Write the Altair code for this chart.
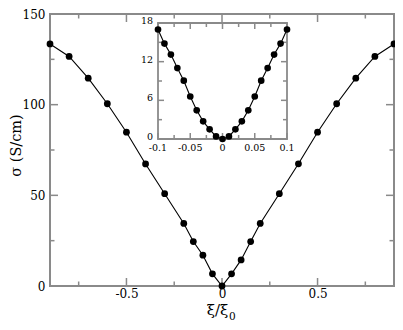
import altair as alt
import pandas as pd

# ---------------- data ----------------
main_x = [-0.9, -0.8, -0.7, -0.6, -0.5, -0.4, -0.3, -0.2, -0.15, -0.1, -0.05, 0.0,
          0.05, 0.1, 0.15, 0.2, 0.3, 0.4, 0.5, 0.6, 0.7, 0.8, 0.9]
main_y = [133.5, 126.6, 114.6, 100.5, 84.8, 67.3, 50.9, 34.5, 24.5, 17.0, 6.7, 0.0,
          6.7, 14.4, 24.5, 34.5, 50.9, 67.4, 84.8, 100.5, 114.6, 126.6, 133.5]

inset_x = [-0.1, -0.09, -0.08, -0.07, -0.06, -0.05, -0.04, -0.03, -0.02, -0.01, 0.0,
           0.01, 0.02, 0.03, 0.04, 0.05, 0.06, 0.07, 0.08, 0.09, 0.1]
inset_y = [17.0, 14.8, 13.1, 11.0, 9.05, 6.6, 4.45, 2.74, 1.5, 0.4, 0.0,
           0.4, 1.5, 2.74, 4.45, 6.6, 9.05, 11.0, 13.1, 14.8, 17.0]

main_xticks_major = [-0.5, 0.0, 0.5]
main_xticks_minor = [-0.75, -0.25, 0.25, 0.75]
main_yticks_major = [0, 50, 100, 150]
main_yticks_minor = [25, 75, 125]

inset_xticks_major = [-0.1, -0.05, 0.0, 0.05, 0.1]
inset_xtick_labels = ["-0.1", "-0.05", "0", "0.05", "0.1"]
inset_xticks_minor = [-0.075, -0.025, 0.025, 0.075]
inset_yticks_major = [0, 6, 12, 18]
inset_ytick_labels = ["0", "6", "12", "18"]
inset_yticks_minor = [3, 9, 15]

x_title = "ξ/ξ"
x_title_sub = "0"
y_title = "σ (S/cm)"

# ---------------- layout / style ----------------
W, H = 344, 272
IX0, IX1, IY0, IY1 = 108, 237, 9, 125
GREY = "#8a8a8a"
FONT = "DejaVu Serif"
MAJ, MIN = 8, 4.5
IMAJ, IMIN = 6, 4

XS = alt.Scale(domain=[-0.9, 0.9], nice=False, zero=False)
YS = alt.Scale(domain=[0, 150], nice=False, zero=False)
XA = alt.Axis(values=main_xticks_major, labelExpr="'' + datum.value", ticks=False, tickSize=0,
              domain=False, grid=False, title=None, labelFont=FONT, labelFontSize=12,
              labelColor="black", labelPadding=2, labelFlush=False, labelOverlap=False)
YA = alt.Axis(values=main_yticks_major, ticks=False, tickSize=0, domain=False, grid=False,
              title=None, labelFont=FONT, labelFontSize=12, labelColor="black",
              labelPadding=5, labelFlush=False, labelOverlap=False)

IXS = alt.Scale(domain=[-0.1, 0.1], range=[IX0, IX1], nice=False, zero=False)
IYS = alt.Scale(domain=[0, 18], range=[IY1, IY0], nice=False, zero=False)


def mx(f):
    return alt.X(f, type="quantitative", scale=XS, axis=XA)


def my(f):
    return alt.Y(f, type="quantitative", scale=YS, axis=YA)


def ix(f):
    return alt.X(f, type="quantitative", scale=IXS, axis=None)


def iy(f):
    return alt.Y(f, type="quantitative", scale=IYS, axis=None)


def tickdf(vals):
    return pd.DataFrame({"v": vals})


rule = dict(color=GREY, strokeWidth=1.5)

# ---------------- main panel ----------------
main_df = pd.DataFrame({"x": main_x, "y": main_y})
main_layers = []
for vals, L in [(main_xticks_major, MAJ), (main_xticks_minor, MIN)]:
    main_layers.append(alt.Chart(tickdf(vals)).mark_rule(**rule).encode(
        x=mx("v"), y=alt.value(H), y2=alt.value(H - L)))
    main_layers.append(alt.Chart(tickdf(vals)).mark_rule(**rule).encode(
        x=mx("v"), y=alt.value(0), y2=alt.value(L)))
for vals, L in [(main_yticks_major, MAJ), (main_yticks_minor, MIN)]:
    main_layers.append(alt.Chart(tickdf(vals)).mark_rule(**rule).encode(
        y=my("v"), x=alt.value(0), x2=alt.value(L)))
    main_layers.append(alt.Chart(tickdf(vals)).mark_rule(**rule).encode(
        y=my("v"), x=alt.value(W), x2=alt.value(W - L)))

main_layers.append(alt.Chart(main_df).mark_line(color="black", strokeWidth=1.1).encode(
    x=mx("x"), y=my("y")))
main_layers.append(alt.Chart(main_df).mark_point(filled=True, color="black", size=46, opacity=1).encode(
    x=mx("x"), y=my("y")))

one = pd.DataFrame({"a": [0]})
main_layers.append(alt.Chart(one).mark_text(text=x_title, font=FONT, fontSize=15, color="black",
                                            align="center", baseline="alphabetic").encode(
    x=alt.value(167.5), y=alt.value(301)))
main_layers.append(alt.Chart(one).mark_text(text=x_title_sub, font=FONT, fontSize=10.5, color="black",
                                            align="left", baseline="alphabetic").encode(
    x=alt.value(179), y=alt.value(305.5)))
main_layers.append(alt.Chart(one).mark_text(text=y_title, font=FONT, fontSize=14.5, color="black",
                                            align="center", baseline="middle", angle=270).encode(
    x=alt.value(-33), y=alt.value(131.5)))

main = alt.layer(*main_layers)

# ---------------- inset ----------------
inset_df = pd.DataFrame({"x": inset_x, "y": inset_y})
inset_layers = [alt.Chart(one).mark_rect(fill="white", stroke=GREY, strokeWidth=1.8).encode(
    x=alt.value(IX0), x2=alt.value(IX1), y=alt.value(IY0), y2=alt.value(IY1))]
for vals, L in [(inset_xticks_major, IMAJ), (inset_xticks_minor, IMIN)]:
    inset_layers.append(alt.Chart(tickdf(vals)).mark_rule(**rule).encode(
        x=ix("v"), y=alt.value(IY1), y2=alt.value(IY1 - L)))
    inset_layers.append(alt.Chart(tickdf(vals)).mark_rule(**rule).encode(
        x=ix("v"), y=alt.value(IY0), y2=alt.value(IY0 + L)))
for vals, L in [(inset_yticks_major, IMAJ), (inset_yticks_minor, IMIN)]:
    inset_layers.append(alt.Chart(tickdf(vals)).mark_rule(**rule).encode(
        y=iy("v"), x=alt.value(IX0), x2=alt.value(IX0 + L)))
    inset_layers.append(alt.Chart(tickdf(vals)).mark_rule(**rule).encode(
        y=iy("v"), x=alt.value(IX1), x2=alt.value(IX1 - L)))

inset_layers.append(alt.Chart(inset_df).mark_line(color="black", strokeWidth=1.1).encode(
    x=ix("x"), y=iy("y")))
inset_layers.append(alt.Chart(inset_df).mark_point(filled=True, color="black", size=44, opacity=1).encode(
    x=ix("x"), y=iy("y")))

ixl = pd.DataFrame({"v": inset_xticks_major, "t": inset_xtick_labels})
iyl = pd.DataFrame({"v": inset_yticks_major, "t": inset_ytick_labels})
inset_layers.append(alt.Chart(ixl).mark_text(font=FONT, fontSize=9.5, color="black", align="center",
                                            baseline="top").encode(
    x=ix("v"), y=alt.value(IY1 + 4), text="t:N"))
inset_layers.append(alt.Chart(iyl).mark_text(font=FONT, fontSize=9.5, color="black", align="right",
                                            baseline="middle", dy=-2).encode(
    y=iy("v"), x=alt.value(IX0 - 5), text="t:N"))

inset = alt.layer(*inset_layers)

chart = alt.layer(main, inset).resolve_scale(x="independent", y="independent").properties(
    width=W, height=H,
    autosize=alt.AutoSizeParams(type="none"),
    padding={"left": 42, "top": 6, "right": 1, "bottom": 36},
).configure_view(stroke=GREY, strokeWidth=2)

chart.save("out.html", embed_options={"renderer": "svg", "actions": False})
